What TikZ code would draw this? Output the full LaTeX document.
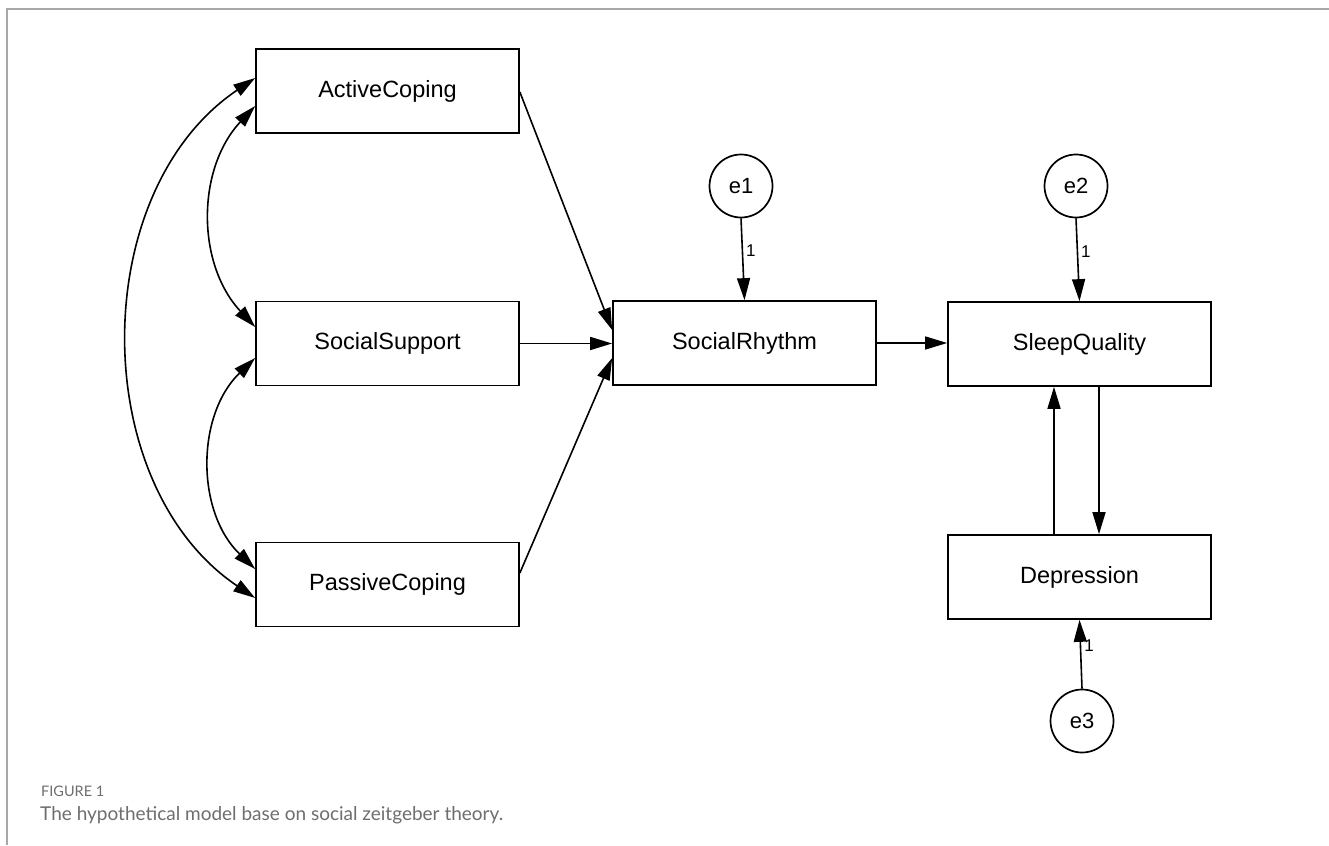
\documentclass[tikz,border=0pt]{standalone}
\usepackage{fontspec}
\setmainfont{Liberation Sans}
\newfontfamily\capfont{Lato}
\usetikzlibrary{arrows.meta,calc}
\definecolor{framegray}{HTML}{A8A8A8}
\definecolor{capgray}{HTML}{6E6E6E}
\tikzset{
  varbox/.style={draw, line width=1.7pt, minimum width=263pt, minimum height=84pt, inner sep=0pt,
    font=\fontsize{23.5}{28}\selectfont},
  errcirc/.style={draw, circle, line width=1.7pt, minimum size=63pt, inner sep=0pt,
    font=\fontsize{22}{26}\selectfont},
  tip/.tip={Triangle[length=22pt,width=13pt]},
  path/.style={line width=1.6pt, -tip},
  cov/.style={line width=1.6pt, tip-tip},
  onelab/.style={font=\fontsize{17}{20}\selectfont, inner sep=3pt}
}
\begin{document}
\begin{tikzpicture}[x=1pt, y=-1pt]
  \fill[white] (0,0) rectangle (1329,845);
  \useasboundingbox (0,0) rectangle (1329,845);
  \coordinate (frameTL) at (7,9);
  \coordinate (frameTR) at (1329,9);
  \coordinate (frameBL) at (7,845);
  \draw[framegray, line width=1.5pt] (frameTR) -- (frameTL) -- (frameBL);

  % variable boxes
  \node[varbox] (AC) at (387.5,91) {ActiveCoping};
  \node[varbox] (SS) at (387.5,343.5) {SocialSupport};
  \node[varbox] (PC) at (387.5,584.5) {PassiveCoping};
  \node[varbox] (SR) at (744.5,343) {SocialRhythm};
  \node[varbox] (SQ) at (1079.5,344) {SleepQuality};
  \node[varbox] (DEP) at (1079.5,577) {Depression};

  % error terms
  \node[errcirc] (e1) at (741,186) {e1};
  \node[errcirc] (e2) at (1076,186) {e2};
  \node[errcirc] (e3) at (1082,721) {e3};

  % regression paths
  \draw[path] ([yshift=-1pt]AC.east) -- ([yshift=13pt]SR.west);
  \draw[path] (SS.east) -- (SS.east -| SR.west);
  \draw[path] ([yshift=11.5pt]PC.east) -- ([yshift=-15pt]SR.west);
  \draw[path] (SR.east) -- (SR.east -| SQ.west);
  \draw[path] ([xshift=19.5pt]SQ.south) -- ([xshift=19.5pt]DEP.north);
  \draw[path] ([xshift=-25.5pt]DEP.north) -- ([xshift=-25.5pt]SQ.south);

  % error paths
  \draw[path] (e1.south) -- node[onelab, pos=0.4, right] {1} (SR.north);
  \draw[path] (e2.south) -- node[onelab, pos=0.4, right] {1} (SQ.north);
  \draw[path] (e3.north) -- node[onelab, pos=0.62, right] {1} (DEP.south);

  % covariances
  \draw[cov] ([yshift=-15pt]AC.west) to[bend right=43] ([yshift=16.5pt]SS.west);
  \draw[cov] ([yshift=-14.5pt]SS.west) to[bend right=46] ([yshift=15.5pt]PC.west);
  \draw[cov] ([yshift=13pt]AC.west) to[bend right=56] ([yshift=-13.5pt]PC.west);

  % caption
  \node[anchor=base west, inner sep=0pt, text=capgray, font=\capfont\fontsize{14.5}{17}\selectfont] (figlab) at (41,796) {FIGURE 1};
  \node[anchor=base west, inner sep=0pt, text=capgray, font=\capfont\fontsize{19}{23}\selectfont] (captext) at (40,820) {The hypothetical model base on social zeitgeber theory.};
\end{tikzpicture}
\end{document}
